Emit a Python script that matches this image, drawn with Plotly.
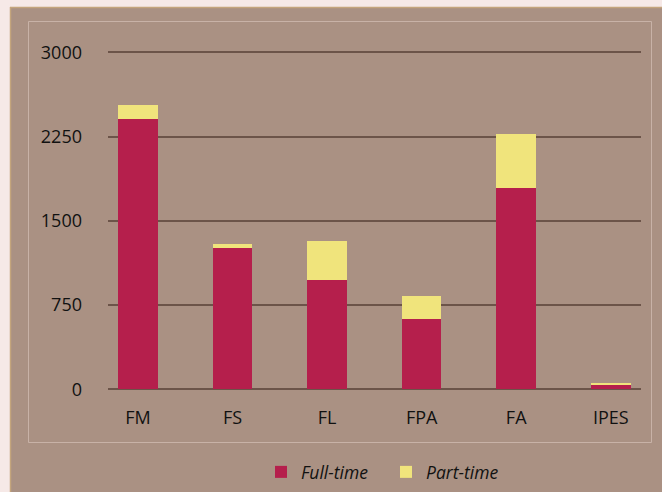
import plotly.graph_objects as go

categories = ["FM", "FS", "FL", "FPA", "FA", "IPES"]
full_time = [2410, 1260, 970, 625, 1790, 38]
part_time = [120, 35, 350, 205, 480, 22]
y_ticks = [0, 750, 1500, 2250, 3000]

W, H = 662, 492
L, R, T, B = 108, 21, 50, 87
pw, ph = W - L - R, H - T - B

def px(x):
    return (x - L) / pw

def py(y):
    return (H - B - y) / ph

brown = "#aa9183"
pink = "#f6e9e7"

fig = go.Figure()
fig.add_trace(go.Bar(x=categories, y=full_time, name="Full-time",
                     marker=dict(color="#b51f4c", line=dict(width=0)), width=0.42))
fig.add_trace(go.Bar(x=categories, y=part_time, name="Part-time",
                     marker=dict(color="#f0e47c", line=dict(width=0)), width=0.42))

shapes = [
    dict(type="rect", xref="paper", yref="paper", x0=px(-5), x1=px(10), y0=py(-5), y1=py(H + 5),
         fillcolor=pink, line=dict(width=0), layer="below"),
    dict(type="rect", xref="paper", yref="paper", x0=px(-5), x1=px(W + 5), y0=py(7), y1=py(-5),
         fillcolor=pink, line=dict(width=0), layer="below"),
    dict(type="line", xref="paper", yref="paper", x0=px(10.5), x1=px(10.5), y0=py(7), y1=py(H + 5),
         line=dict(color="#c4a57c", width=1.5), layer="below"),
    dict(type="line", xref="paper", yref="paper", x0=px(10), x1=px(W + 5), y0=py(7.5), y1=py(7.5),
         line=dict(color="#c4a57c", width=1.5), layer="below"),
    dict(type="rect", xref="paper", yref="paper", x0=px(28.5), x1=px(651.5), y0=py(21.5), y1=py(442.5),
         line=dict(color="#c8b2a7", width=1), fillcolor="rgba(0,0,0,0)", layer="below"),
]

fig.update_layout(
    width=W, height=H,
    margin=dict(l=L, r=R, t=T, b=B, autoexpand=False),
    paper_bgcolor=brown, plot_bgcolor=brown,
    barmode="stack",
    shapes=shapes,
    font=dict(family="Open Sans", size=18, color="#111111"),
    xaxis=dict(range=[-0.317, 5.32], showgrid=False, zeroline=False, showline=False,
               ticks="", tickfont=dict(size=18), ticklabelstandoff=0, automargin=False),
    yaxis=dict(range=[-140, 3020], tickvals=y_ticks, ticktext=[str(v) for v in y_ticks],
               showgrid=True, gridcolor="#6c5449", gridwidth=1.6, zeroline=False, showline=False,
               ticks="", tickfont=dict(size=18), ticklabelstandoff=25, automargin=False),
    legend=dict(orientation="h", xref="container", yref="container",
                x=261 / W, xanchor="left", y=(H - 472) / H, yanchor="middle",
                font=dict(family="Open Sans", size=17.5, style="italic", color="#111111"),
                bgcolor="rgba(0,0,0,0)", entrywidth=80, entrywidthmode="pixels",
                traceorder="normal"),
    showlegend=True,
)

fig.write_html("out.html", config={"displayModeBar": False},
               post_script="document.body.style.margin='0';document.body.style.background='%s';" % pink)
